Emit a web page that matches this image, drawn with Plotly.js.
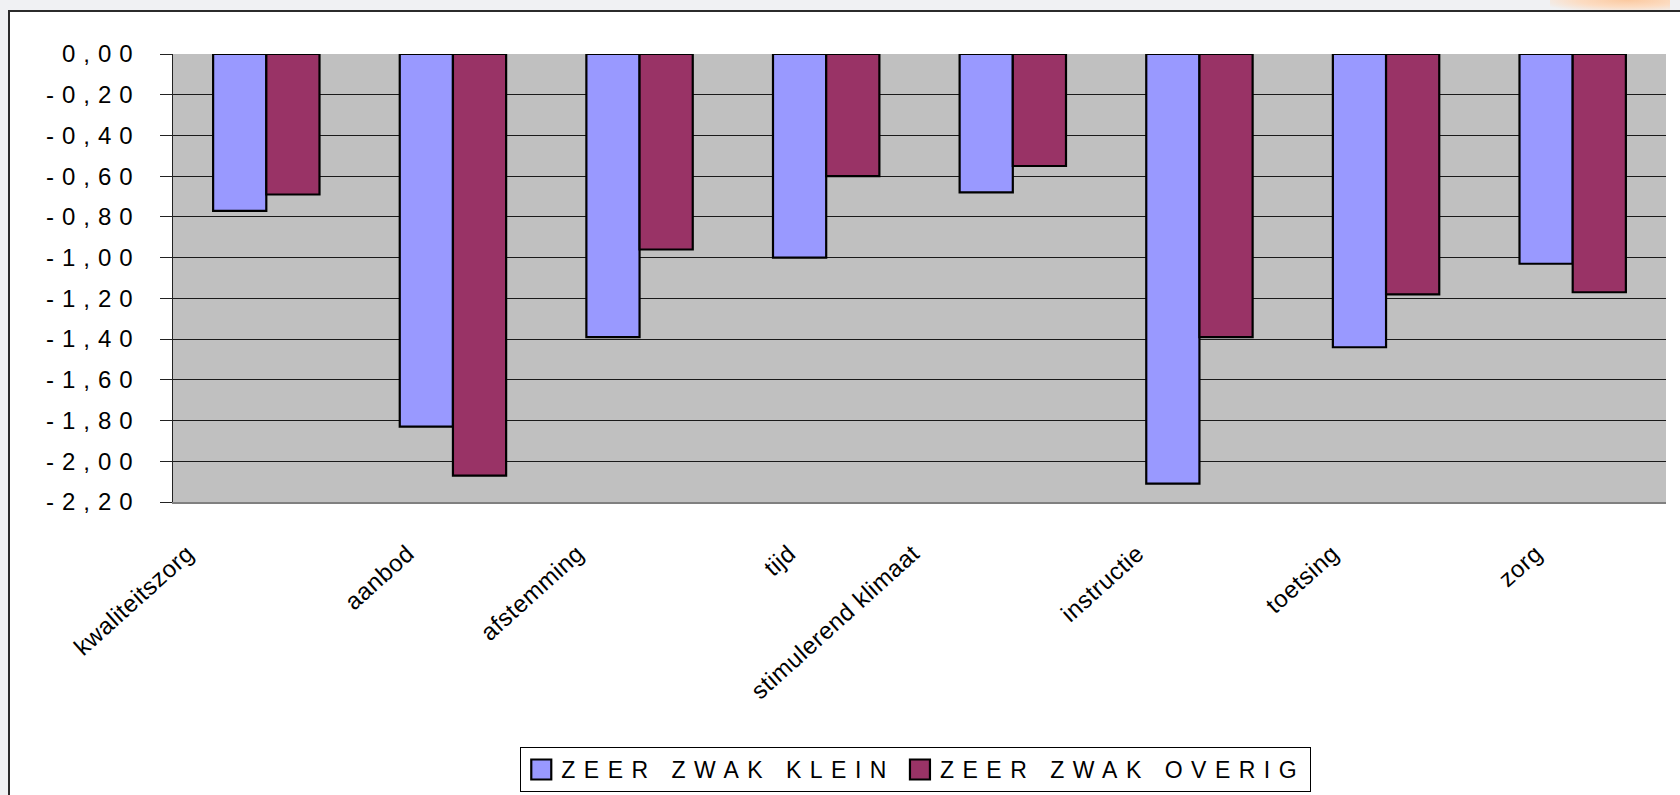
<!DOCTYPE html>
<html>
<head>
<meta charset="utf-8">
<script src="https://cdn.plot.ly/plotly-3.0.1.min.js"></script>
<style>
  html, body { margin: 0; padding: 0; width: 1680px; height: 795px; overflow: hidden; background: #F0F1F3; }
  #glow { position: absolute; left: 1550px; top: 0; width: 120px; height: 11px;
          background: radial-gradient(ellipse at 65% 0%, #FBC9A0 0%, #FCDCC2 45%, rgba(240,241,243,0) 85%); }
  #box { position: absolute; left: 8px; top: 10px; width: 1700px; height: 800px;
         background: #FFFFFF; border-left: 2px solid #2b2b2b; border-top: 2px solid #2b2b2b; }
  #chart { position: absolute; left: 0; top: 0; width: 1680px; height: 795px; }
  .ytick text { letter-spacing: 8px; }
  .legendtext { letter-spacing: 8.5px; }
  .xtick text { letter-spacing: 0.5px; }
  .legendpoints path { d: path("M10,10H-10V-10H10Z"); }
</style>
</head>
<body>
<div id="glow"></div>
<div id="box"></div>
<div id="chart"></div>
<script>
// ---- data ----
const categories = ["kwaliteitszorg", "aanbod", "afstemming", "tijd", "stimulerend klimaat", "instructie", "toetsing", "zorg"];
const seriesNames = ["ZEER ZWAK KLEIN", "ZEER ZWAK OVERIG"];
const zeerZwakKlein  = [-0.77, -1.83, -1.39, -1.00, -0.68, -2.11, -1.44, -1.03];
const zeerZwakOverig = [-0.69, -2.07, -0.96, -0.60, -0.55, -1.39, -1.18, -1.17];
const yTickVals = [0, -0.2, -0.4, -0.6, -0.8, -1.0, -1.2, -1.4, -1.6, -1.8, -2.0, -2.2];
const yTickText = ["0,00", "-0,20", "-0,40", "-0,60", "-0,80", "-1,00", "-1,20", "-1,40", "-1,60", "-1,80", "-2,00", "-2,20"];

// ---- layout helpers ----
const plotLeft = 173, plotRight = 1666, plotTop = 54, plotBottom = 502;
const catPx = (plotRight - plotLeft) / categories.length;
// Excel-like placement of rotated labels: longer labels sit further left of the category centre
const labelPos = categories.map((c, i) => i - (20 + 4.2 * c.length) / catPx);
const boundaries = categories.slice(1).map((c, i) => i + 0.5);

const traces = [
  { type: "bar", name: seriesNames[0], x: categories, y: zeerZwakKlein,
    marker: { color: "#9999FF", line: { color: "#000000", width: 2.2 } } },
  { type: "bar", name: seriesNames[1], x: categories, y: zeerZwakOverig,
    marker: { color: "#993366", line: { color: "#000000", width: 2.2 } } }
];

const layout = {
  width: 1680, height: 795,
  paper_bgcolor: "rgba(0,0,0,0)",
  plot_bgcolor: "#C0C0C0",
  margin: { l: plotLeft, r: 1680 - plotRight, t: plotTop, b: 795 - plotBottom, pad: 0, autoexpand: false },
  font: { family: "Liberation Sans, Arial, sans-serif", color: "#000000" },
  barmode: "group", bargap: 0.43, bargroupgap: 0,
  showlegend: true,
  legend: {
    orientation: "h", x: 0.4975, xanchor: "center", y: -0.547, yanchor: "top",
    bgcolor: "#FFFFFF", bordercolor: "#000000", borderwidth: 1,
    font: { size: 23, family: "Liberation Sans, Arial, sans-serif" },
    itemclick: false, itemdoubleclick: false
  },
  xaxis: {
    type: "category", range: [-0.5, categories.length - 0.5], automargin: false,
    tickmode: "array", tickvals: labelPos, ticktext: categories,
    tickangle: -42, ticks: "", tickfont: { size: 24 }, ticklabelstandoff: 26,
    showgrid: false, zeroline: false,
    showline: true, linecolor: "#808080", linewidth: 2
  },
  xaxis2: {
    type: "linear", overlaying: "x", side: "top", anchor: "y", automargin: false,
    range: [-0.5, categories.length - 0.5],
    tickmode: "array", tickvals: boundaries, ticks: "inside", ticklen: 8,
    tickcolor: "#333333", tickwidth: 1, showticklabels: false,
    showgrid: false, zeroline: false,
    showline: true, linecolor: "#222222", linewidth: 1.5
  },
  yaxis: {
    range: [-2.2, 0], tickmode: "array", tickvals: yTickVals, ticktext: yTickText, automargin: false,
    ticks: "outside", ticklen: 12, tickcolor: "#222222", tickwidth: 1,
    ticklabelstandoff: 14, tickfont: { size: 24 },
    showgrid: true, gridcolor: "#1a1a1a", gridwidth: 1,
    zeroline: false, showline: true, linecolor: "#222222", linewidth: 1.5
  },
  yaxis2: {
    overlaying: "y", side: "right", anchor: "x", range: [-2.2, 0], automargin: false,
    showgrid: false, zeroline: false, showticklabels: false, ticks: "",
    showline: true, linecolor: "#808080", linewidth: 2
  }
};

Plotly.newPlot("chart", traces, layout, { staticPlot: true, displayModeBar: false });
</script>
</body>
</html>
